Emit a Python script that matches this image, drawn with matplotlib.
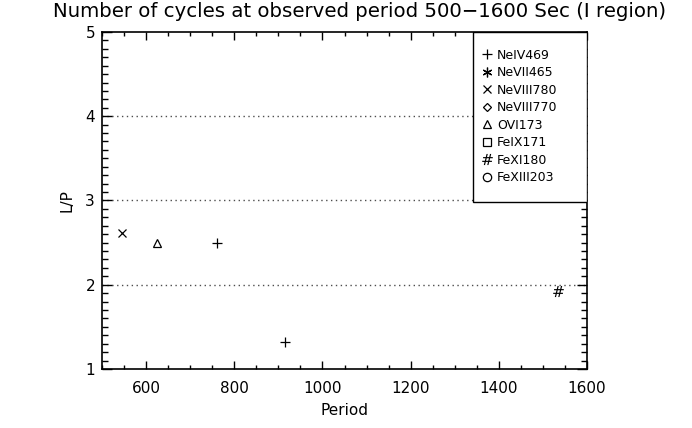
import numpy as np
import matplotlib
matplotlib.use('Agg')
import matplotlib.pyplot as plt
from matplotlib.ticker import MultipleLocator
from matplotlib.patches import Rectangle

# series: name -> (period, L/P)
names = ['NeIV469', 'NeVII465', 'NeVIII780', 'NeVIII770',
         'OVI173', 'FeIX171', 'FeXI180', 'FeXIII203']
markers = ['+', (6, 2, 0), 'x', 'D', '^', 's', '$\\#$', 'o']
msizes = [7, 7, 6, 4.5, 6, 6, 8, 6]

nev469_period = [761, 915]
nev469_lp = [2.5, 1.32]
nevii465_period = []
nevii465_lp = []
neviii780_period = [545]
neviii780_lp = [2.61]
neviii770_period = []
neviii770_lp = []
ovi173_period = [625]
ovi173_lp = [2.5]
feix171_period = []
feix171_lp = []
fexi180_period = [1534]
fexi180_lp = [1.92]
fexiii203_period = []
fexiii203_lp = []

periods = [nev469_period, nevii465_period, neviii780_period, neviii770_period,
           ovi173_period, feix171_period, fexi180_period, fexiii203_period]
lps = [nev469_lp, nevii465_lp, neviii780_lp, neviii770_lp,
       ovi173_lp, feix171_lp, fexi180_lp, fexiii203_lp]

x_ticks = [600, 800, 1000, 1200, 1400, 1600]
y_ticks = [1, 2, 3, 4, 5]
grid_levels = [2, 3, 4]

plt.rcParams['font.family'] = 'DejaVu Sans'

fig = plt.figure(figsize=(6.92, 4.28), dpi=100)
ax = fig.add_axes([0.1474, 0.1379, 0.7009, 0.7874])

for lev in grid_levels:
    ax.axhline(lev, color='0.3', ls=(0, (1, 2.5)), lw=1.0, zorder=1)

handles = []
for name, mk, ms, px, py in zip(names, markers, msizes, periods, lps):
    if mk == '$\\#$':
        h, = ax.plot(px, py, ls='none', marker=mk, ms=ms, color='black',
                     mew=0, label=name, zorder=3)
    else:
        h, = ax.plot(px, py, ls='none', marker=mk, ms=ms, color='black',
                     mfc='none', mew=0.9, label=name, zorder=3)
    handles.append(h)

ax.set_xlim(500, 1600)
ax.set_ylim(1, 5)
ax.set_xticks(x_ticks)
ax.set_yticks(y_ticks)
ax.xaxis.set_minor_locator(MultipleLocator(50))
ax.yaxis.set_minor_locator(MultipleLocator(0.1))
ax.tick_params(which='both', direction='in', top=True, right=True,
               labelsize=11, color='black', width=1, pad=5)
ax.tick_params(axis='x', which='both', pad=9)
ax.tick_params(axis='y', which='major', length=7.5)
ax.tick_params(axis='y', which='minor', length=4)
ax.tick_params(axis='x', which='major', length=5.5)
ax.tick_params(axis='x', which='minor', length=3)
for s in ax.spines.values():
    s.set_linewidth(1.2)

ax.set_xlabel('Period', fontsize=11, labelpad=5)
ax.set_ylabel('L/P', fontsize=11, labelpad=8)
fig.text(0.52, 0.973, 'Number of cycles at observed period 500\u22121600 Sec (I region)',
         fontsize=14.2, ha='center', va='center')

# legend box
ax.add_patch(Rectangle((0.765, 0.4955), 0.235, 0.5045, transform=ax.transAxes,
                       facecolor='white', edgecolor='black', lw=1.0, zorder=5))
leg = ax.legend(handles=handles, loc='upper left', bbox_to_anchor=(0.762, 0.982),
                borderaxespad=0, frameon=False, fontsize=9, labelspacing=0.36,
                handlelength=0.8, handletextpad=0.4, borderpad=0.85)
leg.set_zorder(6)

fig.savefig('out.png', dpi=100)
